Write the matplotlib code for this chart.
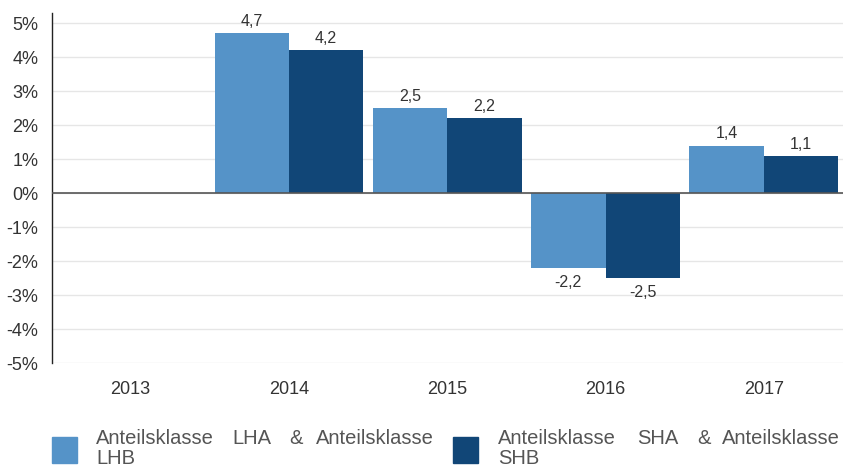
import matplotlib.pyplot as plt
import numpy as np

plt.rcParams['font.family'] = ['Liberation Sans', 'DejaVu Sans']

years = ["2013", "2014", "2015", "2016", "2017"]
lha = [np.nan, 4.7, 2.5, -2.2, 1.4]
sha = [np.nan, 4.2, 2.2, -2.5, 1.1]
series_names = ["Anteilsklasse LHA & Anteilsklasse LHB",
                "Anteilsklasse SHA & Anteilsklasse SHB"]
light = "#5593c8"
dark = "#114677"
txt = "#333333"

fig = plt.figure(figsize=(8.43, 4.68), dpi=100)
ax = fig.add_axes([51.5 / 843, 1 - 363 / 468, 1 - 51.5 / 843, (363 - 13) / 468])

x = np.arange(len(years))
w = 0.47
ax.bar(x - w / 2, lha, w, color=light, zorder=2)
ax.bar(x + w / 2, sha, w, color=dark, zorder=2)

def fmt(v):
    return ("%.1f" % v).replace(".", ",")

for xs, vals in [(x - w / 2, lha), (x + w / 2, sha)]:
    for xi, v in zip(xs, vals):
        if np.isnan(v):
            continue
        if v >= 0:
            ax.annotate(fmt(v), (xi, v), xytext=(0, 3), textcoords="offset points",
                        ha="center", va="bottom", fontsize=11.5, color=txt)
        else:
            ax.annotate(fmt(v), (xi, v), xytext=(0, -5), textcoords="offset points",
                        ha="center", va="top", fontsize=11.5, color=txt)

ax.set_xlim(-0.5, 4.5)
ax.set_ylim(-5, 5.3)
ax.set_yticks(range(-5, 6))
ax.set_yticklabels([f"{t}%" for t in range(-5, 6)])
ax.set_xticks(x)
ax.set_xticklabels(years)
ax.tick_params(axis="both", length=0, labelsize=13, labelcolor=txt)
ax.tick_params(axis="x", pad=13)
ax.tick_params(axis="y", pad=9.5)
ax.yaxis.grid(True, color="#e6e6e6", linewidth=1, zorder=0)
ax.axhline(0, color="#555555", linewidth=1.2, zorder=3)
for s in ["top", "right", "bottom"]:
    ax.spines[s].set_visible(False)
ax.spines["left"].set_color("#222222")
ax.spines["left"].set_linewidth(1)

# legend, drawn by hand to mimic justified wrapped text
leg = [(52, light, [96, 232, 289, 434]), (453, dark, [498, 637, 697, 840])]
for (x0, col, wx), name in zip(leg, series_names):
    fig.patches.append(plt.Rectangle((x0 / 843, 1 - 463 / 468), 25 / 843, 26 / 468,
                                     transform=fig.transFigure, color=col))
    words = name.split(" ")
    for i, (wxi, word) in enumerate(zip(wx, words[:4])):
        fig.text(wxi / 843, 1 - 438 / 468, word, fontsize=14.5, color="#555555",
                 ha="right" if i == 3 else "left", va="center")
    fig.text(wx[0] / 843, 1 - 459 / 468, words[4], fontsize=14.5, color="#555555",
             ha="left", va="center")

fig.savefig("out.png", dpi=100)
